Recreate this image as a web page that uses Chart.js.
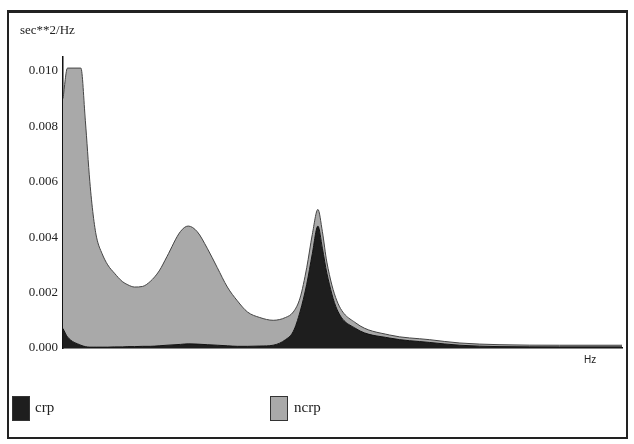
<!DOCTYPE html>
<html>
<head>
<meta charset="utf-8">
<script src="https://cdn.jsdelivr.net/npm/chart.js@4/dist/chart.umd.min.js"></script>
<style>
  html, body { margin: 0; padding: 0; background: #fff; }
  #wrap { position: relative; width: 634px; height: 444px; overflow: hidden; }
  #frame { position: absolute; left: 7px; top: 10px; width: 621px; height: 429px; border: 2px solid #222; border-top-width: 3px; box-sizing: border-box; }
  canvas { position: absolute; left: 0; top: 0; }
  .txt { position: absolute; font-family: "Liberation Serif", "DejaVu Serif", serif; color: #222; }
  .box { position: absolute; width: 18px; height: 25px; border: 1px solid #333; box-sizing: border-box; }
</style>
</head>
<body>
<div id="wrap">
  <div id="frame"></div>
  <canvas id="c" width="634" height="444"></canvas>
  <div class="txt" style="left:20px;top:22px;font-size:13px;">sec**2/Hz</div>
  <div class="txt" style="left:584px;top:354px;font-size:10px;font-family:'Liberation Sans','DejaVu Sans',sans-serif;">Hz</div>
  <div class="box" style="left:12px;top:396px;background:#1e1e1e;"></div>
  <div class="txt" style="left:35px;top:399px;font-size:15px;">crp</div>
  <div class="box" style="left:270px;top:396px;background:#a9a9a9;"></div>
  <div class="txt" style="left:294px;top:399px;font-size:15px;">ncrp</div>
</div>
<script>
// Frequency (Hz) of each sample
const freq = [0.000,0.004,0.016,0.020,0.024,0.027,0.030,0.035,0.040,0.046,0.053,0.058,0.064,0.071,0.078,0.086,0.093,0.105,0.112,0.120,0.129,0.138,0.147,0.156,0.165,0.176,0.188,0.199,0.206,0.212,0.218,0.223,0.228,0.232,0.236,0.245,0.262,0.292,0.328,0.355,0.390,0.444,0.500];
// crp spectral density (sec**2/Hz)
const crp = [0.0007,0.0004,0.0001,0.00005,0.00003,0.00003,0.00003,0.00003,0.00003,0.00004,0.00004,0.00005,0.00005,0.00006,0.00006,0.00008,0.0001,0.00013,0.00015,0.00014,0.00012,0.0001,0.00008,0.00006,0.00006,0.00007,0.0001,0.0003,0.0006,0.0013,0.0023,0.0034,0.0044,0.0036,0.0027,0.0014,0.0007,0.00036,0.0002,0.0001,0.00005,0.00004,0.00004];
// ncrp spectral density (sec**2/Hz), stacked on crp
const ncrp = [0.0083,0.0097,0.0100,0.00815,0.00597,0.00477,0.00397,0.00337,0.00297,0.00266,0.00236,0.00223,0.00215,0.00216,0.00234,0.0027,0.0032,0.00407,0.00425,0.00406,0.00348,0.0028,0.00212,0.00164,0.00124,0.00103,0.0009,0.0008,0.0007,0.0005,0.0006,0.0007,0.0006,0.0006,0.0004,0.0003,0.0002,0.00011,0.0001,0.00008,0.00007,0.00006,0.00006];
const yTicks = [0, 0.002, 0.004, 0.006, 0.008, 0.010];

const toPts = arr => arr.map((v, i) => ({ x: freq[i], y: v }));

new Chart(document.getElementById('c'), {
  type: 'line',
  data: {
    datasets: [
      { label: 'crp', data: toPts(crp), fill: 'origin', backgroundColor: '#1e1e1e', borderColor: '#111', borderWidth: 1, pointRadius: 0, cubicInterpolationMode: 'monotone' },
      { label: 'ncrp', data: toPts(ncrp), fill: '-1', backgroundColor: '#a9a9a9', borderColor: '#444', borderWidth: 1, pointRadius: 0, cubicInterpolationMode: 'monotone' }
    ]
  },
  options: {
    responsive: false,
    animation: false,
    layout: { padding: { left: 0, top: 57, right: 12, bottom: 96 } },
    plugins: { legend: { display: false }, tooltip: { enabled: false } },
    scales: {
      x: {
        type: 'linear', min: 0, max: 0.5,
        ticks: { display: false },
        grid: { display: false, drawTicks: false },
        border: { display: true, color: '#111', width: 1.5 },
        afterFit: s => { s.height = 0; }
      },
      y: {
        stacked: true, min: 0, max: 0.0105,
        afterBuildTicks: s => { s.ticks = yTicks.map(v => ({ value: v })); },
        ticks: {
          callback: v => v.toFixed(3),
          font: { family: "'Liberation Serif', 'DejaVu Serif', serif", size: 13 },
          color: '#222', padding: 5
        },
        grid: { display: false, drawTicks: false },
        border: { display: true, color: '#111', width: 1.5 },
        afterFit: s => { s.width = 63; }
      }
    }
  }
});
</script>
</body>
</html>
